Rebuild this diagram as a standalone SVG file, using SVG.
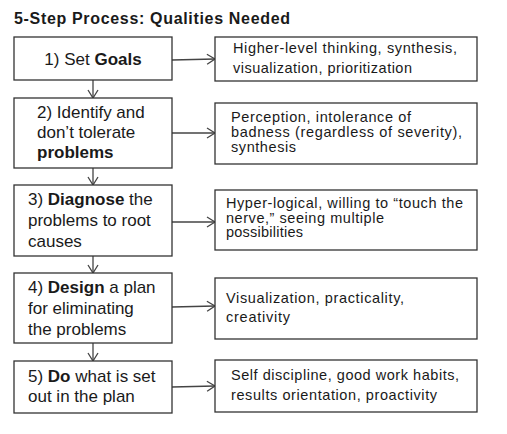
<svg xmlns="http://www.w3.org/2000/svg" width="507" height="434" viewBox="0 0 507 434">
<defs>
<style>
.box{fill:#fff;stroke:#333;stroke-width:1.3}
.l{font-family:"Liberation Sans",Arial,sans-serif;font-size:17px;fill:#1a1a1a}
.r{font-family:"Liberation Sans",Arial,sans-serif;font-size:14.5px;fill:#1a1a1a}
.t{font-family:"Liberation Sans",Arial,sans-serif;font-size:16px;font-weight:bold;fill:#1a1a1a}
.c{stroke:#444;stroke-width:1.3;fill:none;marker-end:url(#ah)}
.b{font-weight:bold}
</style>
<marker id="ah" markerUnits="userSpaceOnUse" viewBox="-10 -6 12 12" refX="0" refY="0" markerWidth="12" markerHeight="12" orient="auto">
<path d="M-8,-5 L0,0 L-8,5" fill="none" stroke="#444" stroke-width="1.3"/>
</marker>
</defs>
<rect width="507" height="434" fill="#fff"/>
<text class="t" x="14" y="24" textLength="276" lengthAdjust="spacing">5-Step Process: Qualities Needed</text>
<g id="connectors">
<line class="c" x1="93" y1="80" x2="93" y2="98"/>
<line class="c" x1="93" y1="168" x2="93" y2="185"/>
<line class="c" x1="93" y1="256" x2="93" y2="273"/>
<line class="c" x1="93" y1="343" x2="93" y2="361"/>
<line class="c" x1="172" y1="60" x2="215" y2="59"/>
<line class="c" x1="172" y1="133" x2="215" y2="133"/>
<line class="c" x1="172" y1="222" x2="215" y2="222"/>
<line class="c" x1="172" y1="307" x2="215" y2="306"/>
<line class="c" x1="172" y1="387" x2="215" y2="386"/>
</g>
<g id="step1">
<rect class="box" x="14" y="37" width="158" height="43"/>
<text class="l" x="93" y="65" text-anchor="middle">1) Set <tspan class="b">Goals</tspan></text>
</g>
<g id="step2">
<rect class="box" x="14" y="98" width="158" height="70"/>
<text class="l" x="37" y="118">2) Identify and</text>
<text class="l" x="37" y="138">don’t tolerate</text>
<text class="l b" x="37" y="158">problems</text>
</g>
<g id="step3">
<rect class="box" x="14" y="185" width="158" height="71"/>
<text class="l" x="28" y="205">3) <tspan class="b">Diagnose</tspan> the</text>
<text class="l" x="28" y="226">problems to root</text>
<text class="l" x="28" y="247">causes</text>
</g>
<g id="step4">
<rect class="box" x="14" y="273" width="158" height="70"/>
<text class="l" x="28" y="293">4) <tspan class="b">Design</tspan> a plan</text>
<text class="l" x="28" y="314">for eliminating</text>
<text class="l" x="28" y="335">the problems</text>
</g>
<g id="step5">
<rect class="box" x="14" y="361" width="158" height="52"/>
<text class="l" x="28" y="382">5) <tspan class="b">Do</tspan> what is set</text>
<text class="l" x="28" y="402">out in the plan</text>
</g>
<g id="quality1">
<rect class="box" x="215" y="37" width="262" height="44"/>
<text class="r" x="233" y="53" textLength="224">Higher-level thinking, synthesis,</text>
<text class="r" x="233" y="73" textLength="179">visualization, prioritization</text>
</g>
<g id="quality2">
<rect class="box" x="215" y="103" width="262" height="61"/>
<text class="r" x="231" y="122" textLength="180">Perception, intolerance of</text>
<text class="r" x="231" y="137" textLength="231">badness (regardless of severity),</text>
<text class="r" x="231" y="152" textLength="65">synthesis</text>
</g>
<g id="quality3">
<rect class="box" x="215" y="190" width="262" height="60"/>
<text class="r" x="226" y="208" textLength="237">Hyper-logical, willing to “touch the</text>
<text class="r" x="226" y="223" textLength="158">nerve,” seeing multiple</text>
<text class="r" x="226" y="237" textLength="77">possibilities</text>
</g>
<g id="quality4">
<rect class="box" x="215" y="278" width="262" height="61"/>
<text class="r" x="226" y="303" textLength="178">Visualization, practicality,</text>
<text class="r" x="226" y="322" textLength="64">creativity</text>
</g>
<g id="quality5">
<rect class="box" x="215" y="360" width="262" height="52"/>
<text class="r" x="231" y="380" textLength="228">Self discipline, good work habits,</text>
<text class="r" x="231" y="400" textLength="206">results orientation, proactivity</text>
</g>
</svg>
